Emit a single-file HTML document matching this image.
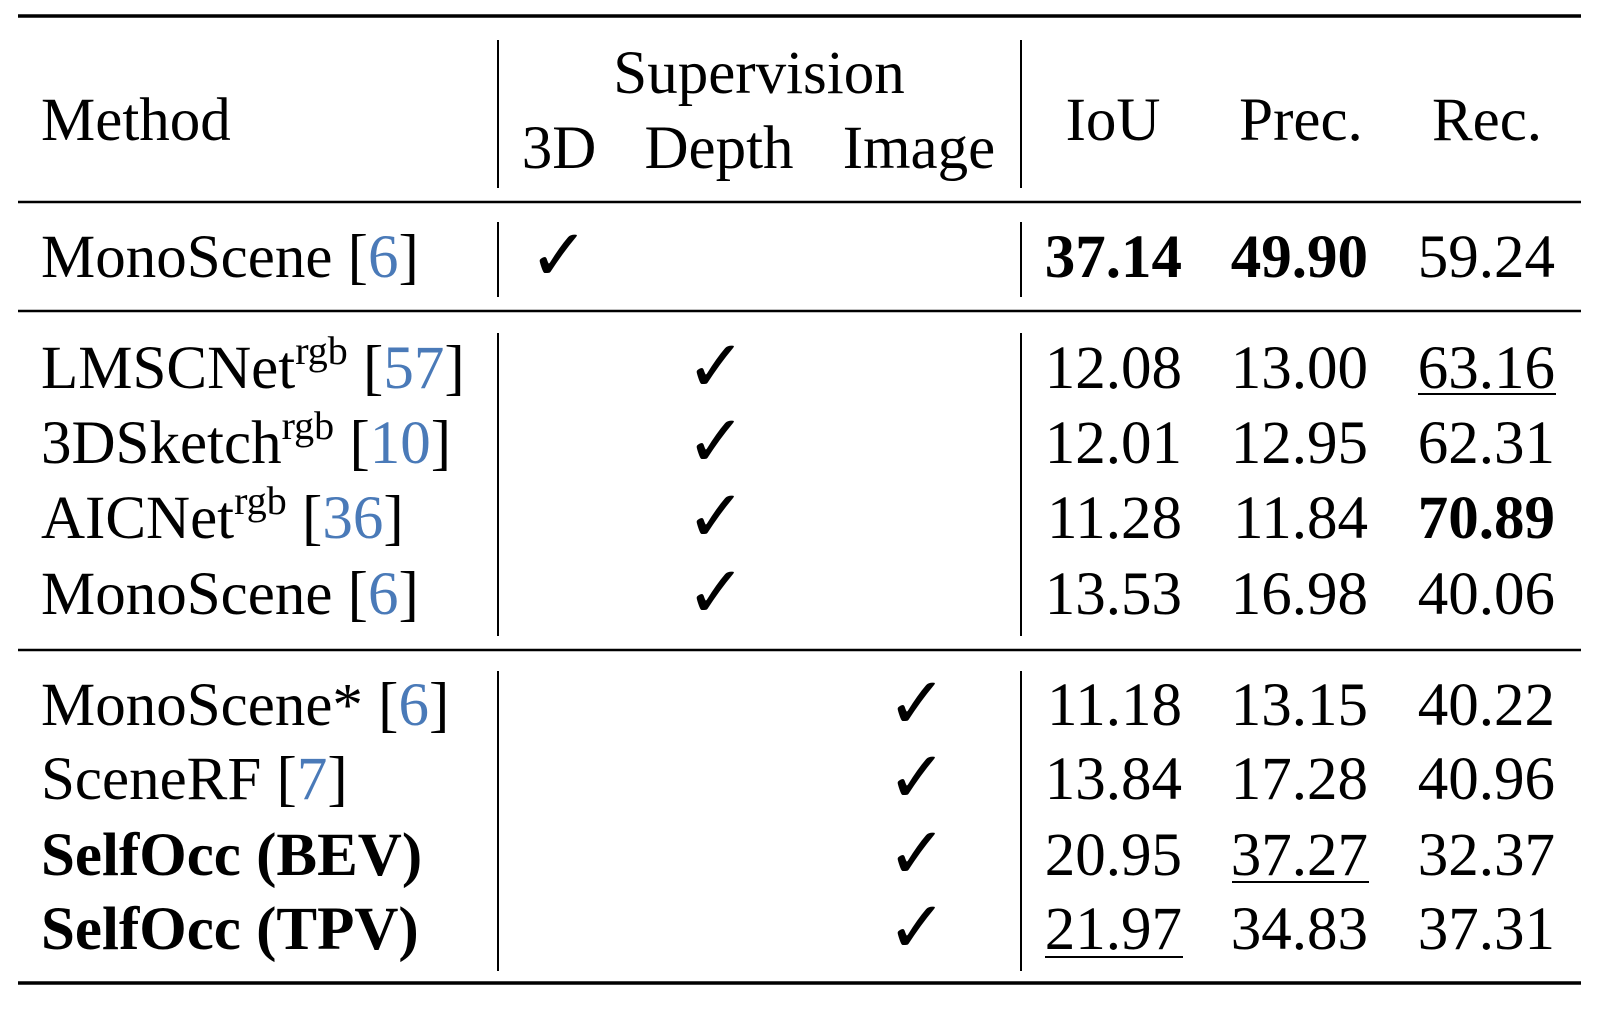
<!DOCTYPE html>
<html><head><meta charset="utf-8"><style>
html,body{margin:0;padding:0;background:#fff;}
svg{display:block;font-family:"Liberation Serif","DejaVu Serif",serif;}
.c{fill:#4a7ab8;}
</style></head><body>
<svg width="1622" height="1010" viewBox="0 0 1622 1010" font-size="61" fill="#000">
<g stroke="#000">
<line x1="18" x2="1581" y1="16" y2="16" stroke-width="3.5"/>
<line x1="18" x2="1581" y1="202" y2="202" stroke-width="2.5"/>
<line x1="18" x2="1581" y1="311" y2="311" stroke-width="2.5"/>
<line x1="18" x2="1581" y1="650" y2="650" stroke-width="2.5"/>
<line x1="18" x2="1581" y1="983" y2="983" stroke-width="3.5"/>
<line x1="498" x2="498" y1="40" y2="188" stroke-width="2"/>
<line x1="1021" x2="1021" y1="40" y2="188" stroke-width="2"/>
<line x1="498" x2="498" y1="222" y2="297" stroke-width="2"/>
<line x1="1021" x2="1021" y1="222" y2="297" stroke-width="2"/>
<line x1="498" x2="498" y1="333" y2="636" stroke-width="2"/>
<line x1="1021" x2="1021" y1="333" y2="636" stroke-width="2"/>
<line x1="498" x2="498" y1="671" y2="971" stroke-width="2"/>
<line x1="1021" x2="1021" y1="671" y2="971" stroke-width="2"/>
</g>
<g>
<text x="41" y="140">Method</text>
<text x="759" y="93" text-anchor="middle">Supervision</text>
<text x="559" y="168" text-anchor="middle">3D</text>
<text x="719" y="168" text-anchor="middle">Depth</text>
<text x="919" y="168" text-anchor="middle">Image</text>
<text x="1113" y="140" text-anchor="middle">IoU</text>
<text x="1301" y="140" text-anchor="middle">Prec.</text>
<text x="1487" y="140" text-anchor="middle">Rec.</text>
</g>
<g>
<text x="41" y="277">MonoScene [<tspan class="c">6</tspan>]</text>
<text x="41" y="388">LMSCNet<tspan font-size="40" dy="-24">rgb</tspan><tspan dy="24"> [</tspan><tspan class="c">57</tspan>]</text>
<text x="41" y="463">3DSketch<tspan font-size="40" dy="-24">rgb</tspan><tspan dy="24"> [</tspan><tspan class="c">10</tspan>]</text>
<text x="41" y="538">AICNet<tspan font-size="40" dy="-24">rgb</tspan><tspan dy="24"> [</tspan><tspan class="c">36</tspan>]</text>
<text x="41" y="614">MonoScene [<tspan class="c">6</tspan>]</text>
<text x="41" y="725">MonoScene* [<tspan class="c">6</tspan>]</text>
<text x="41" y="799">SceneRF [<tspan class="c">7</tspan>]</text>
<text x="41" y="875" font-weight="bold">SelfOcc (BEV)</text>
<text x="41" y="949" font-weight="bold">SelfOcc (TPV)</text>
</g>
<g text-anchor="middle" font-family="DejaVu Sans, sans-serif" font-size="72">
<text x="559" y="280">✓</text>
<text x="716" y="391">✓</text>
<text x="716" y="466">✓</text>
<text x="716" y="541">✓</text>
<text x="716" y="617">✓</text>
<text x="917" y="728">✓</text>
<text x="917" y="802">✓</text>
<text x="917" y="878">✓</text>
<text x="917" y="952">✓</text>
</g>
<g text-anchor="end">
<text x="1182" y="277" font-weight="bold">37.14</text><text x="1368" y="277" font-weight="bold">49.90</text><text x="1555" y="277">59.24</text>
<text x="1182" y="388">12.08</text><text x="1368" y="388">13.00</text><text x="1555" y="388">63.16</text>
<text x="1182" y="463">12.01</text><text x="1368" y="463">12.95</text><text x="1555" y="463">62.31</text>
<text x="1182" y="538">11.28</text><text x="1368" y="538">11.84</text><text x="1555" y="538" font-weight="bold">70.89</text>
<text x="1182" y="614">13.53</text><text x="1368" y="614">16.98</text><text x="1555" y="614">40.06</text>
<text x="1182" y="725">11.18</text><text x="1368" y="725">13.15</text><text x="1555" y="725">40.22</text>
<text x="1182" y="799">13.84</text><text x="1368" y="799">17.28</text><text x="1555" y="799">40.96</text>
<text x="1182" y="875">20.95</text><text x="1368" y="875">37.27</text><text x="1555" y="875">32.37</text>
<text x="1182" y="949">21.97</text><text x="1368" y="949">34.83</text><text x="1555" y="949">37.31</text>
</g>
<g stroke="#000" stroke-width="2">
<line x1="1418" x2="1556" y1="394" y2="394"/>
<line x1="1232" x2="1369" y1="882" y2="882"/>
<line x1="1045" x2="1183" y1="957" y2="957"/>
</g>
</svg>
</body></html>
